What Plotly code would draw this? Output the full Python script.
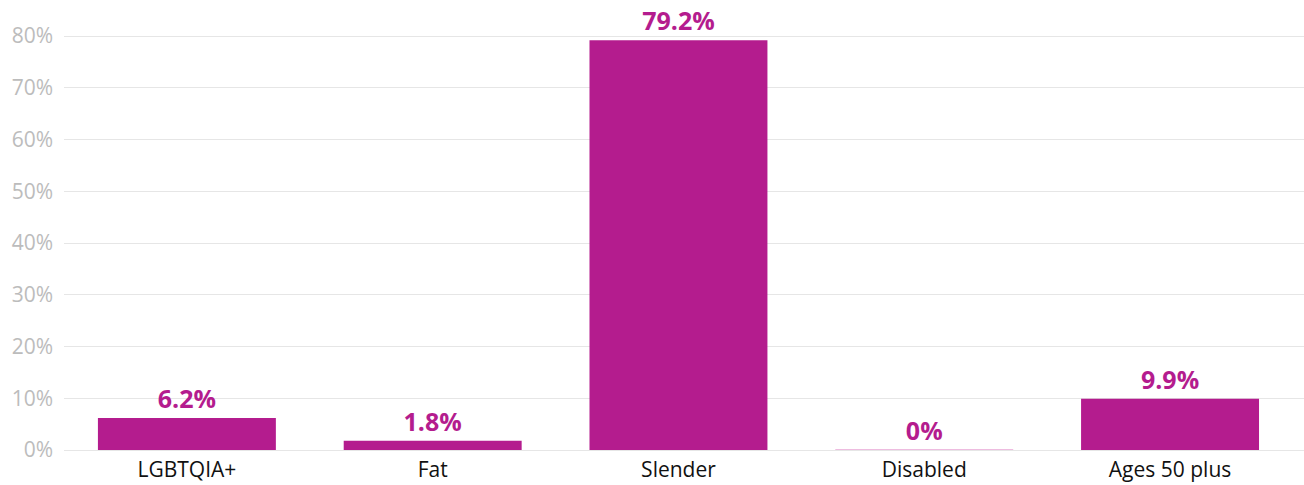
import plotly.graph_objects as go

categories = ["LGBTQIA+", "Fat", "Slender", "Disabled", "Ages 50 plus"]
values = [6.2, 1.8, 79.2, 0, 9.9]
tick_values = [0, 10, 20, 30, 40, 50, 60, 70, 80]
tick_labels = ["0%", "10%", "20%", "30%", "40%", "50%", "60%", "70%", "80%"]

bar_color = "#b41c8e"
bar_width = 0.724
labels = [f"{v:g}%" for v in values]

font_family = "Open Sans"

fig = go.Figure(
    go.Bar(
        x=categories,
        y=values,
        width=bar_width,
        marker=dict(color=bar_color, line=dict(width=0)),
        text=labels,
        textposition="outside",
        cliponaxis=False,
        textfont=dict(family=font_family, size=25, color=bar_color, weight="bold"),
    )
)

# zero-height bars still show a faint pink stroke along the baseline
for i, v in enumerate(values):
    if v == 0:
        fig.add_shape(
            type="line",
            xref="x",
            yref="y",
            x0=i - bar_width / 2,
            x1=i + bar_width / 2,
            y0=v,
            y1=v,
            line=dict(color="#e9a6d6", width=1.5),
            layer="above",
        )

fig.update_layout(
    width=1304,
    height=485,
    margin=dict(l=64, r=0, t=0, b=35),
    paper_bgcolor="white",
    plot_bgcolor="white",
    showlegend=False,
    bargap=0.276,
    xaxis=dict(
        range=[-0.5, 4.545],
        showgrid=False,
        showline=False,
        zeroline=False,
        ticks="",
        ticklabelstandoff=5,
        tickfont=dict(family=font_family, size=21, color="#111111"),
    ),
    yaxis=dict(
        range=[0, 86.96],
        tickvals=tick_values,
        ticktext=tick_labels,
        showgrid=True,
        gridcolor="#e6e6e6",
        gridwidth=1,
        zeroline=True,
        zerolinecolor="#e6e6e6",
        zerolinewidth=1,
        ticks="",
        ticklabelstandoff=10,
        tickfont=dict(family=font_family, size=21, color="#bcbcbc"),
    ),
)

fig.write_html("out.html")
